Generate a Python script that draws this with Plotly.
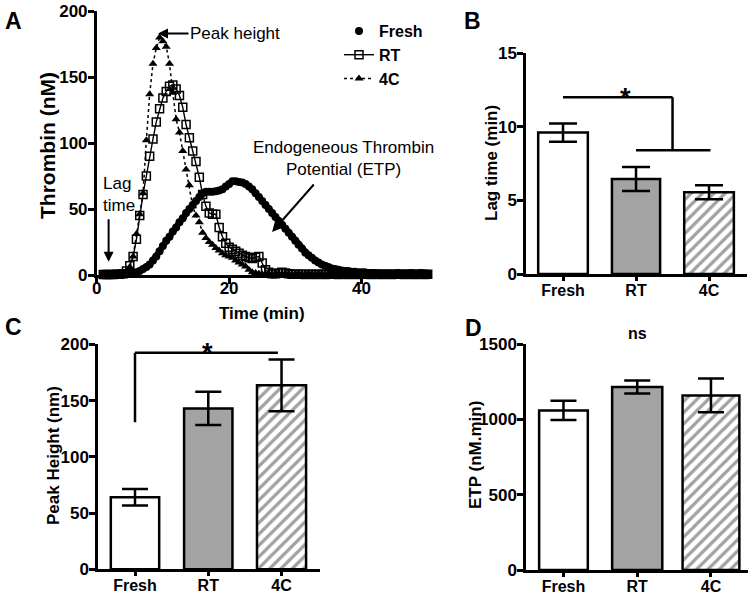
import plotly.graph_objects as go

# ---------------- data ----------------
TIME_MIN = [
    1.0, 1.5, 2.0, 2.5, 3.0, 3.5, 4.0, 4.5, 5.0, 5.5,
    6.0, 6.5, 7.0, 7.5, 8.0, 8.5, 9.0, 9.5, 10.0, 10.5,
    11.0, 11.5, 12.0, 12.5, 13.0, 13.5, 14.0, 14.5, 15.0, 15.5,
    16.0, 16.5, 17.0, 17.5, 18.0, 18.5, 19.0, 19.5, 20.0, 20.5,
    21.0, 21.5, 22.0, 22.5, 23.0, 23.5, 24.0, 24.5, 25.0, 25.5,
    26.0, 26.5, 27.0, 27.5, 28.0, 28.5, 29.0, 29.5, 30.0, 30.5,
    31.0, 31.5, 32.0, 32.5, 33.0, 33.5, 34.0, 34.5, 35.0, 35.5,
    36.0, 36.5, 37.0, 37.5, 38.0, 38.5, 39.0, 39.5, 40.0, 40.5,
    41.0, 41.5, 42.0, 42.5, 43.0, 43.5, 44.0, 44.5, 45.0, 45.5,
    46.0, 46.5, 47.0, 47.5, 48.0, 48.5, 49.0, 49.5, 50.0,
]
FRESH_NM = [
    0.5, 0.5, 0.5, 0.5, 0.5, 0.5, 0.5, 0.8, 1, 1.5,
    2, 3, 4.5, 6, 8, 11, 14, 18, 22, 26,
    29, 33, 36, 40, 43, 47, 50, 53, 56, 59,
    62, 63, 63, 63, 63.5, 64, 65, 67, 69, 71,
    71, 70.5, 70, 69, 67, 65, 62, 59, 56, 53,
    50, 47, 44, 41, 38, 35, 32, 29, 26, 23,
    20, 17, 15, 13, 11, 9.5, 8, 7, 6, 5,
    4.5, 4, 3.5, 3, 3, 2.5, 2.5, 2, 2, 2,
    1.5, 1.5, 1.5, 1, 1, 1, 1, 1, 1, 1.5,
    1, 1, 1, 1.5, 1, 1, 1.5, 1, 1,
]
RT_NM = [
    0.3, 0.3, 0.3, 0.3, 0.5, 0.5, 1, 3, 7, 14,
    27, 45, 61, 75, 90, 103, 116, 126, 134, 139,
    143, 144, 141, 136, 127, 114, 104, 94, 86, 74,
    61, 52, 47, 46, 46, 36, 29, 24, 21, 19.5,
    18, 16.5, 15, 14, 13, 12.5, 13.5, 14, 9, 4,
    2, 1, 1, 1.5, 2, 1.5, 1, 0.5, 0.5, 0.5,
    0.5, 0.3, 0.5, 0.5, 0.3, 0.5, 0.5, 0.3, 0.5, 0.5,
    0.5, 0.3, 0.5, 0.5, 0.3, 0.5, 0.5, 0.3, 0.5, 0.5,
    0.5, 0.3, 0.5, 0.5, 0.3, 0.5, 0.5, 0.3, 0.5, 0.5,
    0.5, 0.3, 0.5, 0.5, 0.3, 0.5, 0.5, 0.3, 0.5,
]
C4_NM = [
    0.5, 0.5, 0.5, 0.5, 0.5, 0.5, 1, 2.5, 6, 14,
    31, 46, 62, 102, 137, 160, 172, 180, 177, 173,
    160, 138, 118, 108, 94, 80, 68, 52, 45, 40,
    32, 28, 25, 23, 20.5, 18.5, 16.5, 15, 14, 13,
    11, 9.5, 8, 6.5, 4, 2, 1.5, 1, 0.5, 0.5,
    0.5, 0.3, 0.5, 0.5, 0.3, 0.5, 0.5, 0.3, 0.5, 0.5,
    0.5, 0.3, 0.5, 0.5, 0.3, 0.5, 0.5, 0.3, 0.5, 0.5,
    0.5, 0.3, 0.5, 0.5, 0.3, 0.5, 0.5, 0.3, 0.5, 0.5,
    0.5, 0.3, 0.5, 0.5, 0.3, 0.5, 0.5, 0.3, 0.5, 0.5,
    0.5, 0.3, 0.5, 0.5, 0.3, 0.5, 0.5, 0.3, 0.5,
]

CATEGORIES = ["Fresh", "RT", "4C"]
LAG_MEAN = [9.6, 6.45, 5.55]
LAG_SEM = [0.62, 0.82, 0.47]
PEAK_MEAN = [64, 143, 163.5]
PEAK_SEM = [7.4, 14.8, 23]
ETP_MEAN = [1059, 1214, 1159]
ETP_SEM = [64, 43, 112]

# ---------------- style ----------------
W, H = 754, 598
FONT = "Liberation Sans, Arial, sans-serif"
BAR_FILL = ["white", "#a3a3a3", "white"]
BAR_PATTERN = ["", "", "/"]


def px(x):
    return x / W


def py(y):
    return 1 - y / H


fig = go.Figure()

# ---------------- panel A ----------------
# thick band under the dense Fresh markers (no legend entry)
fig.add_trace(go.Scatter(
    x=TIME_MIN, y=FRESH_NM, mode="lines", showlegend=False, hoverinfo="skip",
    line=dict(color="black", width=6), xaxis="x", yaxis="y", cliponaxis=False))
fig.add_trace(go.Scatter(
    x=TIME_MIN, y=FRESH_NM, name="Fresh", mode="markers",
    marker=dict(symbol="circle", size=8, color="black"),
    xaxis="x", yaxis="y", cliponaxis=False))
fig.add_trace(go.Scatter(
    x=TIME_MIN, y=RT_NM, name="RT", mode="lines+markers",
    line=dict(color="black", width=1.4),
    marker=dict(symbol="square-open", size=8, color="black", line=dict(width=1.5)),
    xaxis="x", yaxis="y", cliponaxis=False))
fig.add_trace(go.Scatter(
    x=TIME_MIN, y=C4_NM, name="4C", mode="lines+markers",
    line=dict(color="black", width=1.5, dash="3px,3px"),
    marker=dict(symbol="triangle-up", size=8, color="black"),
    xaxis="x", yaxis="y", cliponaxis=False))


def add_bars(means, sems, xa, ya, widths, capw):
    fig.add_trace(go.Bar(
        x=CATEGORIES, y=means, width=widths, xaxis=xa, yaxis=ya,
        showlegend=False,
        marker=dict(color=BAR_FILL, line=dict(color="black", width=2.5),
                    pattern=dict(shape=BAR_PATTERN, fgcolor="#6a6a6a",
                                 fillmode="overlay", size=8, solidity=0.4)),
        error_y=dict(type="data", array=sems, visible=True, color="black",
                     thickness=2.5, width=capw)))


add_bars(LAG_MEAN, LAG_SEM, "x2", "y2", [0.68, 0.66, 0.68], 14)
add_bars(PEAK_MEAN, PEAK_SEM, "x3", "y3", [0.66, 0.66, 0.67], 13)
add_bars(ETP_MEAN, ETP_SEM, "x4", "y4", [0.66, 0.68, 0.77], 13)

tickfont = dict(family=FONT, size=17, color="black", weight="bold")
axis_common = dict(showline=True, linecolor="black", linewidth=2.5,
                   ticks="outside", ticklen=6, tickwidth=2.5, tickcolor="black",
                   showgrid=False, zeroline=False, tickfont=tickfont,
                   automargin=False, fixedrange=True)
y_common = dict(axis_common, ticklabelstandoff=-3)
bar_x = dict(axis_common, type="category", ticklen=4, ticklabelstandoff=-4,
             tickfont=dict(family=FONT, size=16, color="black", weight="bold"))

fig.update_layout(
    template="none",
    width=W, height=H, autosize=False,
    margin=dict(l=0, r=0, t=0, b=0, pad=0, autoexpand=False),
    paper_bgcolor="white", plot_bgcolor="white",
    font=dict(family=FONT, color="black"),
    xaxis=dict(axis_common, domain=[px(96.7), px(431)], range=[0, 50.5],
               tickvals=[0, 20, 40], anchor="y", ticklabelstandoff=-10),
    yaxis=dict(y_common, domain=[py(275), py(11)], range=[0, 200],
               tickvals=[0, 50, 100, 150, 200], anchor="x"),
    xaxis2=dict(bar_x, domain=[px(526), px(747)], range=[-0.507, 2.52], anchor="y2"),
    yaxis2=dict(y_common, domain=[py(274), py(53)], range=[0, 15],
                tickvals=[0, 5, 10, 15], anchor="x2"),
    xaxis3=dict(bar_x, domain=[px(98), px(320)], range=[-0.505, 2.525], anchor="y3"),
    yaxis3=dict(y_common, domain=[py(569.3), py(344.3)], range=[0, 200],
                tickvals=[0, 50, 100, 150, 200], anchor="x3"),
    xaxis4=dict(bar_x, domain=[px(526), px(748)], range=[-0.508, 2.502], anchor="y4"),
    yaxis4=dict(y_common, domain=[py(570), py(344)], range=[0, 1500],
                tickvals=[0, 500, 1000, 1500], anchor="x4"),
    legend=dict(x=px(339), y=py(14), xanchor="left", yanchor="top",
                bgcolor="rgba(0,0,0,0)", borderwidth=0,
                font=dict(family=FONT, size=16, color="black", weight="bold"),
                itemwidth=30, tracegroupgap=0),
)

# significance brackets
line_style = dict(color="black", width=2.5)
shapes = [
    # B
    dict(type="line", xref="x2", yref="y2", x0=0, x1=1.5, y0=12, y1=12, line=line_style),
    dict(type="line", xref="x2", yref="y2", x0=1.5, x1=1.5, y0=12, y1=8.4, line=line_style),
    dict(type="line", xref="x2", yref="y2", x0=1.0, x1=2.02, y0=8.4, y1=8.4, line=line_style),
    # C
    dict(type="line", xref="x3", yref="y3", x0=0, x1=0, y0=130.7, y1=192.6, line=line_style),
    dict(type="line", xref="x3", yref="y3", x0=0, x1=1.95, y0=192.6, y1=192.6, line=line_style),
    # D
    dict(type="line", xref="x4", yref="y4", x0=0, x1=1.96, y0=1511, y1=1511, line=line_style),
]
fig.update_layout(shapes=shapes)

ann = []


def text(x, y, s, size=17, bold=False, angle=0, xanchor="center", align="center"):
    ann.append(dict(xref="paper", yref="paper", x=px(x), y=py(y), text=s,
                    showarrow=False, textangle=angle, xanchor=xanchor,
                    yanchor="middle", align=align,
                    font=dict(family=FONT, size=size, color="black",
                              weight="bold" if bold else "normal")))


# panel letters
text(13, 21, "A", 23, True)
text(472, 21, "B", 23, True)
text(13, 327, "C", 23, True)
text(473, 328, "D", 23, True)

# axis titles
text(47, 146, "Thrombin (nM)", 21, True, -90)
text(262, 313, "Time (min)", 17, True)
text(492, 163, "Lag time (min)", 17, True, -90)
text(53, 456, "Peak Height (nm)", 17, True, -90)
text(475, 455, "ETP (nM.min)", 17, True, -90)

# significance labels
text(625, 98, "*", 27, True)
text(207, 353, "*", 27, True)
text(637, 333, "ns", 16, True)

# panel A notes
text(101, 194, "Lag<br>time", 17, False, 0, "left", "left")
text(343, 158, "Endogeneous Thrombin<br>Potential (ETP)", 17, False)

arrow = dict(showarrow=True, arrowhead=2, arrowsize=1, arrowwidth=2,
             arrowcolor="black", xref="x", yref="y", standoff=0)
ann.append(dict(arrow, x=9.26, y=183, ax=77, ay=0, text="Peak height",
                font=dict(family=FONT, size=17, color="black")))
ann.append(dict(arrow, x=1.8, y=10, ax=0, ay=-44, text=""))
ann.append(dict(arrow, x=26.5, y=32.6, ax=43, ay=-49, text=""))

fig.update_layout(annotations=ann)

# remove the browser's default page margin so the 754x598 figure fills the window
fig.write_html("out.html",
               config={"displayModeBar": False},
               post_script="document.body.style.margin='0';document.body.style.overflow='hidden';")
